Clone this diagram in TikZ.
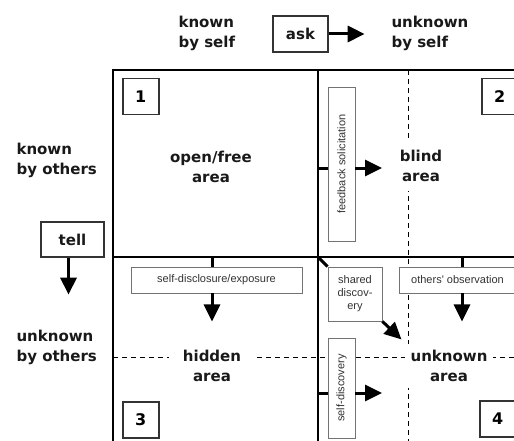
\documentclass[tikz,border=0pt]{standalone}
\usepackage{fontspec}
\setmainfont{DejaVu Sans}
\newfontfamily\smallfam{Liberation Sans}
\usetikzlibrary{arrows.meta}
\begin{document}
\begin{tikzpicture}[x=1pt,y=-1pt,
  big/.style={font=\fontsize{15}{20}\selectfont\bfseries, align=center, text=black!90},
  area/.style={big, fill=white, inner xsep=6pt, inner ysep=6pt},
  numbox/.style={draw=black!80, line width=1.5pt, minimum size=36pt, inner sep=0pt,
    font=\fontsize{16}{16}\selectfont\bfseries, anchor=north west, fill=white},
  lblbox/.style={draw=black!80, line width=1.3pt, big, inner sep=0pt, fill=white},
  smallbox/.style={draw=black!55, line width=0.9pt, fill=white, text=black!80,
    font=\smallfam\fontsize{11}{13}\selectfont, inner sep=0pt, align=center},
  arr/.style={line width=3pt, -{Triangle[length=17pt,width=16pt]}},
  stub/.style={line width=3pt},
  gridln/.style={line width=2.5pt},
  dashln/.style={line width=1pt, dash pattern=on 5pt off 4pt}
]
\useasboundingbox (0,0) rectangle (514,441);
\clip (0,0) rectangle (514,441);
\fill[white] (0,0) rectangle (514,441);

% dashed dividers
\draw[dashln] (408,70) -- (408,444);
\draw[dashln] (113,357) -- (523,357);

% main grid
\draw[gridln] (113,70) rectangle (523,444);
\draw[gridln] (318,70) -- (318,444);
\draw[gridln] (113,257) -- (523,257);

% outside labels
\node[big, align=left, anchor=west] (kself) at (175,33) {known\\by self};
\node[big, align=left, anchor=west] (uself) at (388,33) {unknown\\by self};
\node[lblbox, minimum width=55pt, minimum height=36pt] (ask) at (300.5,34) {ask};
\draw[arr] (ask.east) -- ++(36,0);

\node[big, align=left, anchor=west] (kothers) at (13,160) {known\\by others};
\node[big, align=left, anchor=west] (uothers) at (13,347) {unknown\\by others};
\node[lblbox, minimum width=63pt, minimum height=35pt] (tell) at (72.5,239.5) {tell};
\draw[arr] ([xshift=-4pt]tell.south) -- ++(0,37);

% area names
\node[area] (open) at (211,167) {open/free\\area};
\node[area, inner xsep=4pt, inner ysep=9pt] (blind) at (421,166) {blind\\area};
\node[area, inner xsep=14pt, inner ysep=2pt] (hidden) at (212,366) {hidden\\area};
\node[area, inner xsep=6pt, inner ysep=6pt] (unknown) at (449,366) {unknown\\area};

% number boxes
\node[numbox] (n1) at (122,78) {1};
\node[numbox] (n2) at (481,78) {2};
\node[numbox] (n3) at (122,401) {3};
\node[numbox] (n4) at (479,400) {4};

% process boxes
\node[smallbox, rotate=90, minimum width=154pt, minimum height=27pt] (feedback) at (341.5,164) {feedback solicitation};
\node[smallbox, minimum width=171pt, minimum height=26pt] (disclosure) at (216.5,280) {self-disclosure/exposure};
\node[smallbox, minimum width=117pt, minimum height=26pt] (observation) at (457.5,280) {others' observation};
\node[smallbox, minimum width=54pt, minimum height=54pt] (shared) at (355,294) {shared\\discov-\\ery};
\node[smallbox, rotate=90, minimum width=100pt, minimum height=27pt] (selfdisc) at (341.5,388) {self-discovery};

% connectors
\coordinate (fbin) at (318,168);
\coordinate (fbout) at (355,168);
\draw[stub] (fbin) -- (328,168);
\draw[arr] (fbout) -- ++(27,0);

\coordinate (sdin) at (318,393);
\coordinate (sdout) at (355,393);
\draw[stub] (sdin) -- (328,393);
\draw[arr] (sdout) -- ++(27,0);

\coordinate (dtop) at (disclosure.north -| 212,0);
\draw[stub] (212,257) -- (dtop);
\draw[arr] (disclosure.south -| 212,0) -- ++(0,28);

\coordinate (otop) at (observation.north -| 462,0);
\draw[stub] (462,257) -- (otop);
\draw[arr] (observation.south -| 462,0) -- ++(0,28);

\coordinate (corner) at (318,257);
\draw[stub] (corner) -- (shared.north west);
\draw[arr] (shared.south east) -- ++(19,18);
\end{tikzpicture}
\end{document}
